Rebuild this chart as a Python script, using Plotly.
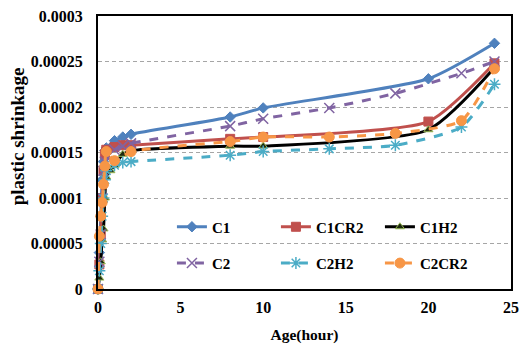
import plotly.graph_objects as go

# ---- data: age (hour) vs plastic shrinkage ----
t_c1 = [0, 0.083, 0.167, 0.25, 0.333, 0.417, 0.5, 1, 1.5, 2, 8, 10, 20, 24]
c1 = [0, 0.00004, 0.00008, 0.00012, 0.00014, 0.000152, 0.000155, 0.000163, 0.000167, 0.00017,
      0.000189, 0.000199, 0.000231, 0.00027]

t_c1cr2 = [0, 0.083, 0.167, 0.25, 0.333, 0.417, 0.5, 1, 1.5, 2, 8, 10, 20, 24]
c1cr2 = [0, 0.000027, 0.00006, 0.0001, 0.00013, 0.000148, 0.000153, 0.000156, 0.000158, 0.000158,
         0.000165, 0.000167, 0.000184, 0.000248]

t_c1h2 = [0, 0.083, 0.167, 0.25, 0.333, 0.417, 0.5, 0.75, 1, 1.5, 2, 8, 10, 20, 24]
c1h2 = [0, 0.000012, 0.00003, 0.000054, 0.000066, 0.0001, 0.000123, 0.00013, 0.000136, 0.000148, 0.000152,
        0.000157, 0.000157, 0.000175, 0.000243]

t_c2 = [0, 0.083, 0.167, 0.25, 0.333, 0.417, 0.5, 1, 1.5, 2, 8, 10, 14, 18, 22, 24]
c2 = [0, 0.00003, 0.00006, 0.0001, 0.00013, 0.00014, 0.000145, 0.000153, 0.000157, 0.00016,
      0.000179, 0.000187, 0.000199, 0.000215, 0.000237, 0.00025]

t_c2h2 = [0, 0.083, 0.167, 0.25, 0.333, 0.417, 0.5, 1, 1.5, 2, 8, 10, 14, 18, 22, 24]
c2h2 = [0, 0.00002, 0.00005, 0.00008, 0.0001, 0.00012, 0.00013, 0.000136, 0.000139, 0.00014,
        0.000147, 0.000151, 0.000154, 0.000158, 0.000178, 0.000225]

t_c2cr2 = [0, 0.083, 0.167, 0.25, 0.333, 0.417, 0.5, 1, 2, 8, 10, 14, 18, 22, 24]
c2cr2 = [0, 0.000058, 0.00008, 0.000095, 0.000115, 0.000135, 0.000151, 0.000141, 0.000151,
         0.000162, 0.000167, 0.000167, 0.000171, 0.000185, 0.000242]

y_ticks = [0, 0.00005, 0.0001, 0.00015, 0.0002, 0.00025, 0.0003]
y_tick_text = ["0", "0.00005", "0.0001", "0.00015", "0.0002", "0.00025", "0.0003"]
x_ticks = [0, 5, 10, 15, 20, 25]

FONT = "Liberation Serif"

series = [
    # name, x, y, line colour, dash, marker symbol, marker fill, marker outline, size, legend
    ("C1", t_c1, c1, "#4F81BD", "solid", "diamond", "#4F81BD", "#4F81BD", 8, "legend"),
    ("C1CR2", t_c1cr2, c1cr2, "#C0504D", "solid", "square", "#C0504D", "#C0504D", 9, "legend"),
    ("C1H2", t_c1h2, c1h2, "#000000", "solid", "triangle-up", "#1E2A10", "#9BBB59", 8, "legend"),
    ("C2", t_c2, c2, "#8064A2", "dash", "x-thin-open", "#8064A2", "#8064A2", 10, "legend2"),
    ("C2H2", t_c2h2, c2h2, "#4BACC6", "dash", "asterisk-open", "#4BACC6", "#4BACC6", 10, "legend2"),
    ("C2CR2", t_c2cr2, c2cr2, "#F79646", "dash", "circle", "#F79646", "#F79646", 10, "legend2"),
]

fig = go.Figure()
for name, xs, ys, col, dash, sym, fill, edge, size, lg in series:
    fig.add_trace(go.Scatter(
        x=xs, y=ys, name=name, mode="lines+markers",
        line=dict(color=col, width=3, dash=dash, shape="spline", smoothing=0.6),
        marker=dict(symbol=sym, size=size, color=fill,
                    line=dict(color=edge, width=1.5 if "open" in sym else 1)),
        cliponaxis=False, legend=lg,
    ))

legend_common = dict(
    orientation="h", xref="paper", yref="paper", xanchor="left", yanchor="middle",
    bgcolor="rgba(0,0,0,0)", entrywidth=59, entrywidthmode="pixels",
    font=dict(family=FONT, size=15, color="black", weight="bold"),
    itemwidth=30,
)

fig.update_layout(
    width=527, height=349,
    margin=dict(l=98, r=8, t=15, b=56),
    paper_bgcolor="white", plot_bgcolor="white",
    font=dict(family=FONT, color="black"),
    showlegend=True,
    legend=dict(x=0.179, y=0.227, **legend_common),
    legend2=dict(x=0.179, y=0.094, **legend_common),
    xaxis=dict(
        range=[0, 25], tickvals=x_ticks, showgrid=False, zeroline=False,
        showline=True, mirror=True, linecolor="black", linewidth=2,
        ticks="", ticklabelstandoff=3, tickfont=dict(family=FONT, size=16, weight="bold"),
        title=dict(text="Age(hour)", font=dict(family=FONT, size=15.5, weight="bold"), standoff=14),
    ),
    yaxis=dict(
        range=[0, 0.0003], tickvals=y_ticks, ticktext=y_tick_text,
        showgrid=True, gridcolor="#A6A6A6", gridwidth=1, griddash="4px,3px",
        zeroline=False, showline=True, mirror=True, linecolor="black", linewidth=2,
        ticks="", ticklabelstandoff=10, tickfont=dict(family=FONT, size=16, weight="bold"),
    ),
    annotations=[dict(
        text="plastic shrinkage", textangle=-90, showarrow=False,
        xref="paper", yref="paper", x=-0.195, y=0.561, xanchor="center", yanchor="middle",
        font=dict(family=FONT, size=19, weight="bold", color="black"),
    )],
)

fig.write_html("out.html")
